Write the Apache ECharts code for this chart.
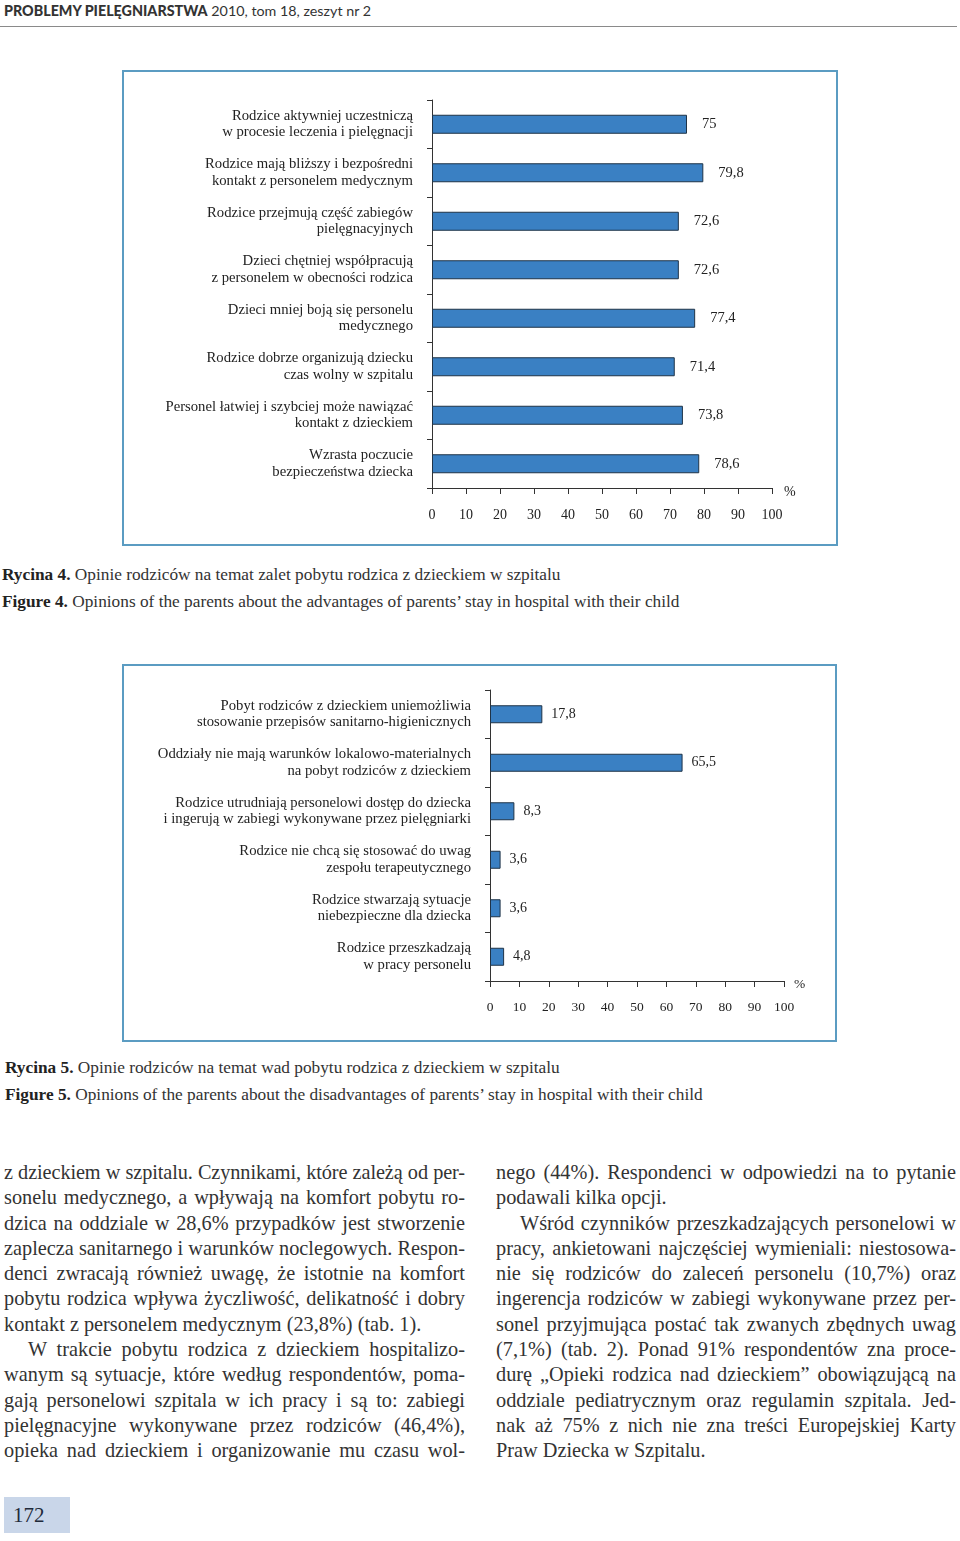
<!DOCTYPE html>
<html>
<head>
<meta charset="utf-8">
<script src="https://cdn.jsdelivr.net/npm/echarts@6/dist/echarts.min.js"></script>
<style>
  html, body { margin: 0; padding: 0; background: #fff; }
  body { width: 960px; height: 1541px; position: relative; overflow: hidden; color: #2a2a2a; }
  .head { position: absolute; left: 4px; top: 2px; font-family: Lato, sans-serif; font-size: 14.3px; color: #333; }
  .head b { font-weight: 900; }
  .rule { position: absolute; left: 0; top: 26px; width: 957px; height: 0; border-top: 1.5px solid #8a8a8a; }
  .frame { position: absolute; box-sizing: border-box; border: 2px solid #5b9cc2; }
  .cap { position: absolute; font-family: "Liberation Serif", serif; font-size: 17.3px; color: #333; white-space: nowrap; }
  .cap b { color: #222; }
  .col { position: absolute; top: 1160px; font-family: "Liberation Serif", serif; font-size: 20.3px; line-height: 25.3px; color: #333; }
  .col div { white-space: nowrap; text-align: justify; text-align-last: justify; }
  .col div.end { text-align-last: left; }
  .col div.ind { padding-left: 24px; }
  .pg { position: absolute; left: 4px; top: 1497px; width: 66px; height: 36px; background: #c9d6e9;
        font-family: "Liberation Serif", serif; font-size: 21px; line-height: 36px; padding-left: 9px; box-sizing: border-box; color: #1f2a3a; }
</style>
</head>
<body>
<div class="head"><b>PROBLEMY PIELĘGNIARSTWA</b> 2010, tom 18, zeszyt nr 2</div>
<div class="rule"></div>

<div id="chart1" class="frame" style="left:122px; top:70px; width:716px; height:476px;"></div>
<div class="cap" style="left:2px; top:565px;"><b>Rycina 4.</b> Opinie rodziców na temat zalet pobytu rodzica z dzieckiem w szpitalu</div>
<div class="cap" style="left:2px; top:592px;"><b>Figure 4.</b> Opinions of the parents about the advantages of parents’ stay in hospital with their child</div>

<div id="chart2" class="frame" style="left:122px; top:664px; width:715px; height:378px;"></div>
<div class="cap" style="left:5px; top:1058px;"><b>Rycina 5.</b> Opinie rodziców na temat wad pobytu rodzica z dzieckiem w szpitalu</div>
<div class="cap" style="left:5px; top:1085px;"><b>Figure 5.</b> Opinions of the parents about the disadvantages of parents’ stay in hospital with their child</div>

<div class="col" style="left:4px; width:461px;">
  <div>z dzieckiem w szpitalu. Czynnikami, które zależą od per-</div>
  <div>sonelu medycznego, a wpływają na komfort pobytu ro-</div>
  <div>dzica na oddziale w 28,6% przypadków jest stworzenie</div>
  <div>zaplecza sanitarnego i warunków noclegowych. Respon-</div>
  <div>denci zwracają również uwagę, że istotnie na komfort</div>
  <div>pobytu rodzica wpływa życzliwość, delikatność i dobry</div>
  <div class="end">kontakt z personelem medycznym (23,8%) (tab. 1).</div>
  <div class="ind">W trakcie pobytu rodzica z dzieckiem hospitalizo-</div>
  <div>wanym są sytuacje, które według respondentów, poma-</div>
  <div>gają personelowi szpitala w ich pracy i są to: zabiegi</div>
  <div>pielęgnacyjne wykonywane przez rodziców (46,4%),</div>
  <div>opieka nad dzieckiem i organizowanie mu czasu wol-</div>
</div>
<div class="col" style="left:496px; width:460px;">
  <div>nego (44%). Respondenci w odpowiedzi na to pytanie</div>
  <div class="end">podawali kilka opcji.</div>
  <div class="ind">Wśród czynników przeszkadzających personelowi w</div>
  <div>pracy, ankietowani najczęściej wymieniali: niestosowa-</div>
  <div>nie się rodziców do zaleceń personelu (10,7%) oraz</div>
  <div>ingerencja rodziców w zabiegi wykonywane przez per-</div>
  <div>sonel przyjmująca postać tak zwanych zbędnych uwag</div>
  <div>(7,1%) (tab. 2). Ponad 91% respondentów zna proce-</div>
  <div>durę „Opieki rodzica nad dzieckiem” obowiązującą na</div>
  <div>oddziale pediatrycznym oraz regulamin szpitala. Jed-</div>
  <div>nak aż 75% z nich nie zna treści Europejskiej Karty</div>
  <div class="end">Praw Dziecka w Szpitalu.</div>
</div>

<div class="pg">172</div>

<script>
// rycina 4 - zalety pobytu rodzica
const advLabels = [
  'Rodzice aktywniej uczestniczą\nw procesie leczenia i pielęgnacji',
  'Rodzice mają bliższy i bezpośredni\nkontakt z personelem medycznym',
  'Rodzice przejmują część zabiegów\npielęgnacyjnych',
  'Dzieci chętniej współpracują\nz personelem w obecności rodzica',
  'Dzieci mniej boją się personelu\nmedycznego',
  'Rodzice dobrze organizują dziecku\nczas wolny w szpitalu',
  'Personel łatwiej i szybciej może nawiązać\nkontakt z dzieckiem',
  'Wzrasta poczucie\nbezpieczeństwa dziecka'
]
const advValues = [75, 79.8, 72.6, 72.6, 77.4, 71.4, 73.8, 78.6]

// rycina 5 - wady pobytu rodzica
const disLabels = [
  'Pobyt rodziców z dzieckiem uniemożliwia\nstosowanie przepisów sanitarno-higienicznych',
  'Oddziały nie mają warunków lokalowo-materialnych\nna pobyt rodziców z dzieckiem',
  'Rodzice utrudniają personelowi dostęp do dziecka\ni ingerują w zabiegi wykonywane przez pielęgniarki',
  'Rodzice nie chcą się stosować do uwag\nzespołu terapeutycznego',
  'Rodzice stwarzają sytuacje\nniebezpieczne dla dziecka',
  'Rodzice przeszkadzają\nw pracy personelu'
]
const disValues = [17.8, 65.5, 8.3, 3.6, 3.6, 4.8]

const axisMax = 100
const axisStep = 10
const axisUnit = '%'

const serif = '"Liberation Serif", serif'

const makeOption = (cats, vals, grid, o) => ({
  animation: false,
  grid: grid,
  xAxis: {
    type: 'value', min: 0, max: axisMax, interval: axisStep,
    name: axisUnit, nameLocation: 'end', nameGap: o.nameGap,
    nameTextStyle: { fontFamily: serif, fontSize: o.tickSize, color: '#222', verticalAlign: 'top', lineHeight: o.nameLh },
    axisLine: { show: true, lineStyle: { color: '#333', width: 1 } },
    axisTick: { show: true, inside: false, length: 6, lineStyle: { color: '#333' } },
    axisLabel: { fontFamily: serif, fontSize: o.tickSize, color: '#222', margin: o.tickMargin },
    splitLine: { show: false }
  },
  yAxis: {
    type: 'category', data: cats, inverse: true,
    axisLine: { show: true, lineStyle: { color: '#333', width: 1 } },
    axisTick: { show: true, length: 5, lineStyle: { color: '#333' } },
    axisLabel: { fontFamily: serif, fontSize: o.catSize, lineHeight: 16.5, color: '#222', margin: 19, align: 'right' }
  },
  series: [{
    type: 'bar', data: vals, barWidth: o.barWidth,
    itemStyle: { color: '#3a80c3', borderColor: '#1f3347', borderWidth: 1 },
    label: {
      show: true, position: 'right', distance: o.labelGap,
      fontFamily: serif, fontSize: o.valSize, color: '#222',
      formatter: p => String(p.value).replace('.', ',')
    }
  }]
})

window.addEventListener('load', () => {
  const c1 = echarts.init(document.getElementById('chart1'))
  c1.setOption(makeOption(advLabels, advValues,
    { left: 308, right: 64, top: 28, bottom: 56 },
    { nameGap: 12, nameLh: 8, tickSize: 14, valSize: 14.5, tickMargin: 20, catSize: 14.7, barWidth: 19, labelGap: 15 }))

  const c2 = echarts.init(document.getElementById('chart2'))
  c2.setOption(makeOption(disLabels, disValues,
    { left: 366, right: 51, top: 24, bottom: 59 },
    { nameGap: 10, nameLh: 6, tickSize: 13.5, valSize: 14, tickMargin: 19, catSize: 14.7, barWidth: 18, labelGap: 9 }))

  // dopasowanie wierszy tekstu do szerokości kolumny
  document.querySelectorAll('.col div').forEach(d => {
    let ls = 0
    while (d.scrollWidth > d.clientWidth + 0.5 && ls > -1.5) {
      ls -= 0.05
      d.style.letterSpacing = ls + 'px'
    }
  })
})
</script>
</body>
</html>
